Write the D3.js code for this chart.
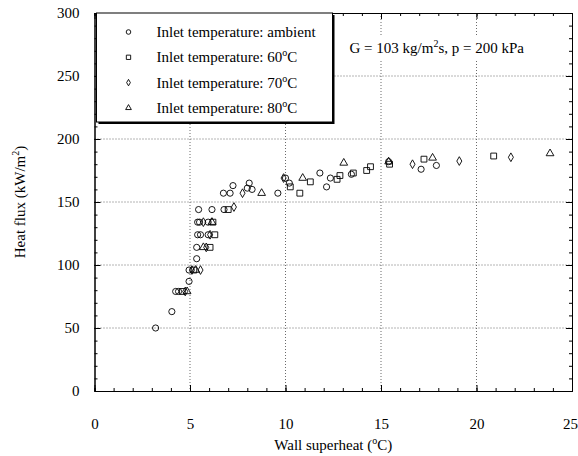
<!DOCTYPE html>
<html>
<head>
<meta charset="utf-8">
<script src="https://cdn.jsdelivr.net/npm/d3@7"></script>
<style>
  body { margin: 0; background: #fff; }
  svg text { font-family: "Liberation Serif", "Times New Roman", serif; fill: #000; }
</style>
</head>
<body>
<svg id="chart" width="578" height="456"></svg>
<script>
var width = 578, height = 456;
var margin = { top: 13, right: 6, bottom: 65, left: 94.5 };

// axis ticks
var xTicks = [0, 5, 10, 15, 20, 25];
var yTicks = [0, 50, 100, 150, 200, 250, 300];

// series labels
var seriesNames = ["ambient", "60", "70", "80"];

// Wall superheat (C) / heat flux (kW/m2)
var ambientX = [3.2, 4.05, 4.25, 4.4, 4.95, 4.95, 5.35, 5.35, 5.4, 5.55, 5.95, 5.4, 5.5, 5.95, 5.45, 6.15, 6.78, 6.75, 7.1, 7.25, 8.0, 8.1, 8.25, 9.6, 10.0, 10.2, 11.8, 12.15, 12.35, 13.45, 15.4, 17.1, 17.9];
var ambientY = [50, 63, 79, 79, 87, 96, 105, 114, 124, 124, 124, 134, 134, 134, 144, 144, 144, 157, 157, 163, 161, 165, 160, 157, 169, 165, 173, 162, 169, 172, 182, 176, 179];

var t60X = [4.6, 5.2, 6.05, 6.3, 6.2, 7.0, 10.25, 10.75, 11.3, 12.7, 12.85, 13.55, 14.25, 14.45, 15.45, 17.25, 20.9];
var t60Y = [79, 96, 114, 124, 134, 144, 162, 157, 166, 168, 171, 173, 175, 178, 180, 184, 186.5];

var t70X = [4.75, 5.1, 5.55, 5.85, 6.05, 5.7, 7.3, 7.75, 9.9, 16.65, 19.1, 21.8];
var t70Y = [79, 96, 96, 114, 124, 134, 146, 157, 169, 180, 182.5, 185.5];

var t80X = [4.85, 5.3, 5.7, 6.15, 8.75, 10.9, 13.05, 15.4, 17.7, 23.85];
var t80Y = [79, 96, 114, 134, 157, 169, 181, 182, 185, 188.5];

var series = [
  { name: seriesNames[0], xs: ambientX, ys: ambientY, sym: d3.symbolCircle, size: 30 },
  { name: seriesNames[1], xs: t60X, ys: t60Y, sym: d3.symbolSquare, size: 34 },
  { name: seriesNames[2], xs: t70X, ys: t70Y, sym: d3.symbolDiamond, size: 22 },
  { name: seriesNames[3], xs: t80X, ys: t80Y, sym: d3.symbolTriangle, size: 26 }
];

var w = width - margin.left - margin.right;
var h = height - margin.top - margin.bottom;

var svg = d3.select("#chart")
  .append("g")
  .attr("transform", "translate(" + margin.left + "," + margin.top + ")");

var x = d3.scaleLinear().domain([0, 25]).range([0, w]);
var y = d3.scaleLinear().domain([0, 300]).range([h, 0]);

// dotted grid
svg.append("g").selectAll("line")
  .data([5, 10, 15, 20]).enter().append("line")
  .attr("x1", d => x(d)).attr("x2", d => x(d))
  .attr("y1", 0).attr("y2", h)
  .attr("stroke", "#444").attr("stroke-width", 0.8)
  .attr("stroke-dasharray", "1,2");
svg.append("g").selectAll("line")
  .data([50, 100, 150, 200, 250]).enter().append("line")
  .attr("y1", d => y(d)).attr("y2", d => y(d))
  .attr("x1", 0).attr("x2", w)
  .attr("stroke", "#444").attr("stroke-width", 0.8)
  .attr("stroke-dasharray", "1,2");

// minor + major ticks, pointing in, on all four sides
function styleAxis(g) {
  g.selectAll("path").attr("stroke", "#000").attr("stroke-width", 1);
  g.selectAll("line").attr("stroke", "#000").attr("stroke-width", 1);
  g.selectAll("text").attr("font-size", 15).attr("font-family", "Liberation Serif");
}
var xMinor = d3.range(0, 26, 1);
var yMinor = d3.range(0, 301, 10);

svg.append("g").attr("transform", "translate(0," + h + ")")
  .call(d3.axisBottom(x).tickValues(xMinor).tickSize(-3).tickFormat(""))
  .call(styleAxis);
var xAxisG = svg.append("g").attr("transform", "translate(0," + h + ")")
  .call(d3.axisBottom(x).tickValues(xTicks).tickSize(-6).tickSizeOuter(0).tickPadding(27))
  .call(styleAxis);
// keep the last label ("25") inside the window
xAxisG.selectAll("text").filter(d => d === 25).attr("dx", -2);

svg.append("g")
  .call(d3.axisTop(x).tickValues(xMinor).tickSize(-3).tickFormat(""))
  .call(styleAxis);
svg.append("g")
  .call(d3.axisTop(x).tickValues(xTicks).tickSize(-6).tickSizeOuter(0).tickFormat(""))
  .call(styleAxis);

svg.append("g")
  .call(d3.axisLeft(y).tickValues(yMinor).tickSize(-3).tickFormat(""))
  .call(styleAxis);
svg.append("g")
  .call(d3.axisLeft(y).tickValues(yTicks).tickSize(-6).tickSizeOuter(0).tickPadding(15))
  .call(styleAxis);
svg.append("g").attr("transform", "translate(" + w + ",0)")
  .call(d3.axisRight(y).tickValues(yMinor).tickSize(-3).tickFormat(""))
  .call(styleAxis);
svg.append("g").attr("transform", "translate(" + w + ",0)")
  .call(d3.axisRight(y).tickValues(yTicks).tickSize(-6).tickSizeOuter(0).tickFormat(""))
  .call(styleAxis);

// data points
series.forEach(function(s) {
  var pts = s.xs.map((v, i) => [v, s.ys[i]]);
  svg.append("g").selectAll("path")
    .data(pts).enter().append("path")
    .attr("d", d3.symbol().type(s.sym).size(s.size))
    .attr("transform", d => "translate(" + x(d[0]) + "," + y(d[1]) + ")")
    .attr("fill", "none")
    .attr("stroke", "#000")
    .attr("stroke-width", 0.9);
});

// annotation with white backing
var ann = svg.append("g").attr("transform", "translate(255,40)");
ann.append("rect").attr("x", -2).attr("y", -17).attr("width", 192).attr("height", 24).attr("fill", "#fff");
var annText = ann.append("text").attr("font-size", 15);
annText.append("tspan").text("G = 103 kg/m");
annText.append("tspan").attr("font-size", 10).attr("dy", -6).text("2");
annText.append("tspan").attr("dy", 6).text("s, p = 200 kPa");

// legend box
var leg = svg.append("g").attr("transform", "translate(2,0)");
leg.append("rect").attr("x", 2).attr("y", 2).attr("width", 236).attr("height", 109).attr("fill", "#000");
leg.append("rect").attr("x", 0).attr("y", 0).attr("width", 236).attr("height", 109)
  .attr("fill", "#fff").attr("stroke", "#000").attr("stroke-width", 1);
series.forEach(function(s, i) {
  var ly = 19 + i * 25.3;
  leg.append("path")
    .attr("d", d3.symbol().type(s.sym).size(s.size * 0.55))
    .attr("transform", "translate(32," + ly + ")")
    .attr("fill", "none").attr("stroke", "#000").attr("stroke-width", 0.9);
  var t = leg.append("text").attr("x", 60).attr("y", ly + 5).attr("font-size", 15);
  if (s.name === "ambient") {
    t.text("Inlet temperature: ambient");
  } else {
    t.append("tspan").text("Inlet temperature: " + s.name);
    t.append("tspan").attr("font-size", 10).attr("dy", -6).text("o");
    t.append("tspan").attr("dy", 6).text("C");
  }
});

// axis titles
var xt = svg.append("text").attr("x", w / 2).attr("y", h + 59).attr("text-anchor", "middle").attr("font-size", 15);
xt.append("tspan").text("Wall superheat (");
xt.append("tspan").attr("font-size", 10).attr("dy", -6).text("o");
xt.append("tspan").attr("dy", 6).text("C)");

var yt = svg.append("text")
  .attr("transform", "translate(" + (-70) + "," + (h / 2) + ") rotate(-90)")
  .attr("text-anchor", "middle").attr("font-size", 15);
yt.append("tspan").text("Heat flux (kW/m");
yt.append("tspan").attr("font-size", 10).attr("dy", -6).text("2");
yt.append("tspan").attr("dy", 6).text(")");
</script>
</body>
</html>
